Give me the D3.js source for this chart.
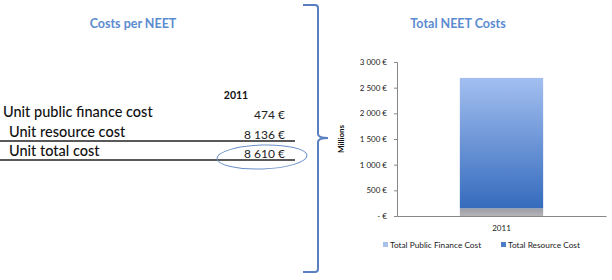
<!DOCTYPE html>
<html>
<head>
<meta charset="utf-8">
<script src="https://cdn.jsdelivr.net/npm/d3@7"></script>
<style>
  body { margin: 0; background: #fff; }
  text { font-family: Lato, "Open Sans", sans-serif; }
</style>
</head>
<body>
<div id="chart"></div>
<script>
// data
const years = ["2011"];
const publicFinanceCost = [150];   // millions
const resourceCost = [2540];       // millions
const seriesNames = ["Total Public Finance Cost", "Total Resource Cost"];
const yTicks = [0, 500, 1000, 1500, 2000, 2500, 3000];

const rowLabels = ["Unit public finance cost", "Unit resource cost", "Unit total cost"];
const unitValues = [474, 8136, 8610];

const W = 612, H = 280;
const svg = d3.select("#chart").append("svg")
  .attr("width", W)
  .attr("height", H);

const fmtEuro = d3.formatLocale({ decimal: ",", thousands: " ", grouping: [3], currency: ["", " €"] });
const euro = d => d === 0 ? "-   €" : fmtEuro.format(",")(d) + " €";

// ---------- left table ----------
svg.append("text")
  .attr("x", 133).attr("y", 28)
  .attr("text-anchor", "middle")
  .attr("font-size", 12.5).attr("font-weight", "bold")
  .attr("fill", "#5b8bd0")
  .text("Costs per NEET");

svg.append("text")
  .attr("x", 236).attr("y", 99)
  .attr("text-anchor", "middle")
  .attr("font-size", 10.5).attr("font-weight", "bold")
  .attr("fill", "#111")
  .text(years[0]);

const rowY = d3.scalePoint().domain(rowLabels).range([117, 156]);
const rowX = [3, 9, 9];

const rows = svg.append("g");
rowLabels.forEach((lab, i) => {
  rows.append("text")
    .attr("x", rowX[i]).attr("y", rowY(lab))
    .attr("font-size", 14.5).attr("font-weight", 500)
    .attr("fill", "#111")
    .text(lab);
  rows.append("text")
    .attr("x", 285).attr("y", rowY(lab) + 2)
    .attr("text-anchor", "end")
    .attr("font-size", 12)
    .attr("fill", "#222")
    .text(fmtEuro.format(",")(unitValues[i]) + " €");
});

[141, 160].forEach(y => {
  svg.append("line")
    .attr("x1", 0).attr("x2", 295)
    .attr("y1", y).attr("y2", y)
    .attr("stroke", "#222").attr("stroke-width", 1.5);
});

svg.append("ellipse")
  .attr("cx", 262).attr("cy", 157)
  .attr("rx", 45).attr("ry", 12)
  .attr("fill", "none")
  .attr("stroke", "#6a8fc8").attr("stroke-width", 1)
  .attr("transform", "rotate(-2 262 157)");

// ---------- brace ----------
svg.append("path")
  .attr("d", "M303,5 L315,5 Q318,5 318,8 L318,134 Q318,138 328,138 Q318,138 318,142 L318,269 Q318,272 315,272 L303,272")
  .attr("fill", "none")
  .attr("stroke", "#5a7fc0").attr("stroke-width", 2);

// ---------- right chart ----------
svg.append("text")
  .attr("x", 458).attr("y", 28)
  .attr("text-anchor", "middle")
  .attr("font-size", 12.5).attr("font-weight", "bold")
  .attr("fill", "#5b8bd0")
  .text("Total NEET Costs");

const plot = { left: 397, right: 606, top: 62, bottom: 216 };

const x = d3.scaleBand().domain(years)
  .range([plot.left, plot.right])
  .padding(0.43);

const y = d3.scaleLinear().domain([0, 3000])
  .range([plot.bottom, plot.top]);

const defs = svg.append("defs");
const grad = defs.append("linearGradient")
  .attr("id", "blueGrad")
  .attr("x1", 0).attr("y1", 0).attr("x2", 0).attr("y2", 1);
grad.append("stop").attr("offset", "0%").attr("stop-color", "#a3bff0");
grad.append("stop").attr("offset", "100%").attr("stop-color", "#356bbd");

const grayGrad = defs.append("linearGradient")
  .attr("id", "grayGrad")
  .attr("x1", 0).attr("y1", 0).attr("x2", 0).attr("y2", 1);
grayGrad.append("stop").attr("offset", "0%").attr("stop-color", "#9c9ea6");
grayGrad.append("stop").attr("offset", "100%").attr("stop-color", "#b4b4b8");

const stackData = years.map((yr, i) => ({ year: yr, pub: publicFinanceCost[i], res: resourceCost[i] }));
const stack = d3.stack().keys(["pub", "res"])(stackData);
const fills = { pub: "url(#grayGrad)", res: "url(#blueGrad)" };

svg.append("g").selectAll("g")
  .data(stack)
  .join("g")
  .attr("fill", d => fills[d.key])
  .selectAll("rect")
  .data(d => d)
  .join("rect")
  .attr("x", d => x(d.data.year))
  .attr("width", x.bandwidth())
  .attr("y", d => y(d[1]))
  .attr("height", d => y(d[0]) - y(d[1]));

const yAxis = svg.append("g")
  .attr("transform", `translate(${plot.left},0)`)
  .call(d3.axisLeft(y).tickValues(yTicks).tickFormat(euro).tickSize(3).tickPadding(7));
yAxis.select(".domain").attr("stroke", "#888");
yAxis.selectAll(".tick line").attr("stroke", "#888");
yAxis.selectAll("text").attr("font-size", 8).attr("fill", "#222")
  .style("font-family", "Lato, sans-serif");

const xAxis = svg.append("g")
  .attr("transform", `translate(0,${plot.bottom})`)
  .call(d3.axisBottom(x).tickSize(0).tickPadding(9));
xAxis.select(".domain").attr("stroke", "#888");
xAxis.selectAll("text").attr("font-size", 8).attr("fill", "#222")
  .style("font-family", "Lato, sans-serif");

svg.append("text")
  .attr("transform", `translate(344,${(plot.top + plot.bottom) / 2}) rotate(-90)`)
  .attr("text-anchor", "middle")
  .attr("font-size", 8).attr("font-weight", "bold")
  .attr("fill", "#111")
  .text("Millions");

// legend
const legendColors = ["#a9c1e8", "#4a7cc8"];
const legendX = [383, 501];
seriesNames.forEach((name, i) => {
  svg.append("rect")
    .attr("x", legendX[i]).attr("y", 242)
    .attr("width", 5).attr("height", 5)
    .attr("fill", legendColors[i]);
  svg.append("text")
    .attr("x", legendX[i] + 7).attr("y", 248)
    .attr("font-size", 8.3)
    .attr("fill", "#222")
    .text(name);
});
</script>
</body>
</html>
